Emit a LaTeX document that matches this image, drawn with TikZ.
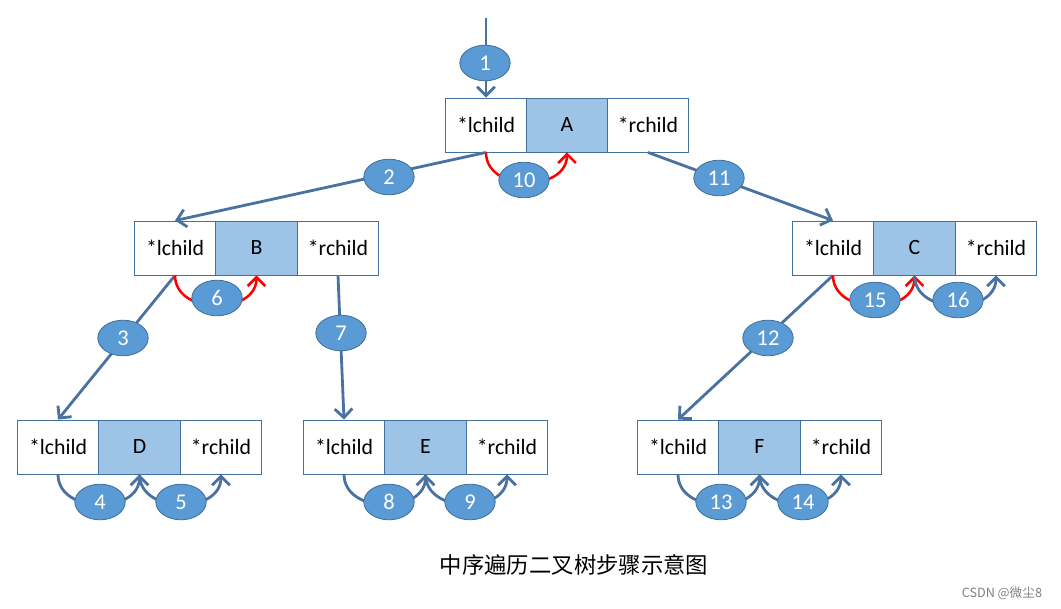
\documentclass[tikz,border=0pt]{standalone}
\usepackage{fontspec}
\setmainfont{Carlito}
\newfontfamily\cjkfont{Noto Sans CJK SC}
\usetikzlibrary{shapes.geometric,arrows.meta}
\definecolor{boxline}{HTML}{41719C}
\definecolor{datafill}{HTML}{9DC3E6}
\definecolor{stepfill}{HTML}{5B9BD5}
\definecolor{linkline}{HTML}{4A72A0}
\begin{document}
\begin{tikzpicture}[x=0.025cm,y=-0.025cm,
    cell/.style={draw=boxline,line width=0.6pt,minimum width=2.0375cm,minimum height=1.35cm,
      inner sep=0pt,font=\fontsize{15.5}{18}\selectfont},
    datacell/.style={cell,fill=datafill},
    stepnode/.style={ellipse,draw=boxline,fill=stepfill,line width=0.6pt,minimum width=1.26cm,
      minimum height=0.89cm,inner sep=0pt,text=white,font=\fontsize{16}{18}\selectfont},
    link/.style={draw=linkline,line width=2pt,-{Straight Barb[length=2.2mm,width=4.4mm]}},
    backlink/.style={link,draw=red,line width=1.8pt}]
  \useasboundingbox (0,0) rectangle (1061,609);

  % Record A
  \node[cell] (Al) at (486,125) {*lchild};
  \node[datacell] (A) at (567,125) {A};
  \node[cell] (Ar) at (648,125) {*rchild};

  % Record B
  \node[cell] (Bl) at (175,248) {*lchild};
  \node[datacell] (B) at (256.5,248) {B};
  \node[cell] (Br) at (338,248) {*rchild};

  % Record C
  \node[cell] (Cl) at (833,248) {*lchild};
  \node[datacell] (C) at (914.5,248) {C};
  \node[cell] (Cr) at (996,248) {*rchild};

  % Record D
  \node[cell] (Dl) at (58,447) {*lchild};
  \node[datacell] (D) at (139.5,447) {D};
  \node[cell] (Dr) at (221,447) {*rchild};

  % Record E
  \node[cell] (El) at (344,447) {*lchild};
  \node[datacell] (E) at (425.5,447) {E};
  \node[cell] (Er) at (507,447) {*rchild};

  % Record F
  \node[cell] (Fl) at (678,447) {*lchild};
  \node[datacell] (F) at (759.5,447) {F};
  \node[cell] (Fr) at (841,447) {*rchild};

  % Links between records
  \coordinate (root) at (486,18);
  \draw[link] (root) -- (Al.north);
  \draw[link] (Al.south) -- (Bl.north);
  \draw[link] (Ar.south) -- (Cl.north);
  \draw[link] (Bl.south) -- (Dl.north);
  \draw[link] (Br.south) -- (El.north);
  \draw[link] (Cl.south) -- (Fl.north);

  % Returns to the data field (red)
  \draw[backlink] (Al.south) .. controls +(0,40) and +(0,40) .. (A.south);
  \draw[backlink] (Bl.south) .. controls +(0,40) and +(0,40) .. (B.south);
  \draw[backlink] (Cl.south) .. controls +(0,40) and +(0,40) .. (C.south);

  % Returns from empty children
  \draw[link] (Dl.south) .. controls +(0,40) and +(0,40) .. (D.south);
  \draw[link] (D.south) .. controls +(0,40) and +(0,40) .. (Dr.south);
  \draw[link] (El.south) .. controls +(0,40) and +(0,40) .. (E.south);
  \draw[link] (E.south) .. controls +(0,40) and +(0,40) .. (Er.south);
  \draw[link] (Fl.south) .. controls +(0,40) and +(0,40) .. (F.south);
  \draw[link] (F.south) .. controls +(0,40) and +(0,40) .. (Fr.south);
  \draw[link] (C.south) .. controls +(0,40) and +(0,40) .. (Cr.south);

  % Step numbers
  \node[stepnode] (s1) at (485,63) {1};
  \node[stepnode] (s2) at (389,177) {2};
  \node[stepnode] (s3) at (123,338) {3};
  \node[stepnode] (s4) at (100,502) {4};
  \node[stepnode] (s5) at (181,502) {5};
  \node[stepnode] (s6) at (217,298) {6};
  \node[stepnode] (s7) at (341,333) {7};
  \node[stepnode] (s8) at (389,502) {8};
  \node[stepnode] (s9) at (470,502) {9};
  \node[stepnode] (s10) at (524,180) {10};
  \node[stepnode] (s11) at (719,178) {11};
  \node[stepnode] (s12) at (768,338) {12};
  \node[stepnode] (s13) at (721,502) {13};
  \node[stepnode] (s14) at (803,502) {14};
  \node[stepnode] (s15) at (875,300) {15};
  \node[stepnode] (s16) at (958,300) {16};

  % Caption
  \node[font=\cjkfont\fontsize{15.9}{19}\selectfont] (caption) at (574,565) {中序遍历二叉树步骤示意图};
  \node[anchor=east,text=gray,font=\cjkfont\fontsize{9}{11}\selectfont] (mark) at (1047,593) {CSDN @微尘8};
\end{tikzpicture}
\end{document}
